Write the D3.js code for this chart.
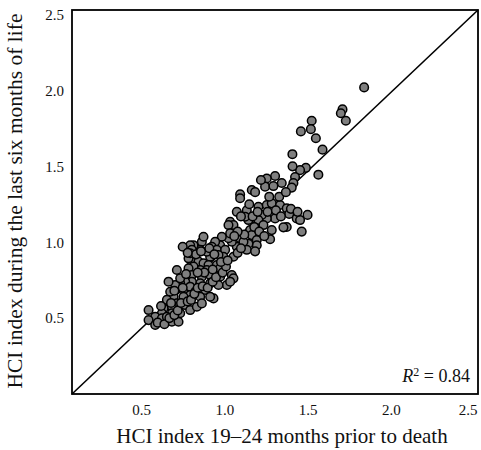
<!DOCTYPE html>
<html>
<head>
<meta charset="utf-8">
<script src="https://cdnjs.cloudflare.com/ajax/libs/d3/7.8.5/d3.min.js"></script>
<style>
  body { margin: 0; background: #fff; }
  svg { display: block; font-family: "Liberation Serif", "DejaVu Serif", serif; }
</style>
</head>
<body>
<svg id="scatter" width="481" height="450"></svg>
<script>
// HCI index 19-24 months prior to death (x) and during last six months (y)
const hciPrior = [
  1.84, 1.71, 1.70, 1.73, 1.525, 1.52, 1.46, 1.55, 1.59, 1.49, 1.455, 1.565,
  1.409, 1.41, 1.425, 1.415, 1.405, 1.345, 1.305, 1.255, 1.245, 1.295, 1.22, 1.165,
  1.185, 1.095, 1.095, 1.205, 1.255, 1.285, 1.335, 1.375, 1.39, 1.435, 1.455, 1.50,
  1.465, 1.375, 1.355, 1.305, 1.255, 1.225, 1.205, 1.235, 1.285, 1.275, 1.135, 1.145,
  1.125, 1.075, 1.035, 1.055, 1.025, 1.155, 1.165, 1.195, 1.195, 1.145, 1.135, 1.185,
  1.095, 1.075, 1.115, 1.045, 1.025, 1.035, 0.985, 0.975, 0.945, 0.925, 0.955, 1.005,
  1.055, 0.995, 0.965, 0.915, 0.895, 0.865, 0.875, 0.855, 0.815, 0.795, 0.805, 0.825,
  0.805, 0.845, 0.875, 0.905, 0.955, 0.975, 0.895, 0.855, 0.815, 0.785, 0.715, 0.805,
  0.865, 0.915, 0.975, 1.045, 1.055, 1.015, 0.915, 0.855, 0.805, 0.765, 0.735, 0.705,
  0.665, 0.755, 0.795, 0.825, 0.885, 0.935, 0.855, 0.795, 0.755, 0.695, 0.675, 0.655,
  0.715, 0.765, 0.685, 0.635, 0.625, 0.685, 0.735, 0.585, 0.545, 0.545, 0.585, 0.625,
  0.655, 0.685, 0.725, 0.795, 0.835, 0.865, 0.915, 0.735, 0.785, 0.795, 0.965, 1.035,
  0.60, 0.64, 0.67, 0.70, 0.72, 0.74, 0.78, 0.80, 0.82, 0.84, 0.87, 0.90,
  0.93, 0.95, 0.99, 1.01, 0.93, 0.88, 0.84, 0.77, 0.75, 0.70, 0.68, 0.62,
  0.83, 0.86, 0.91, 0.94, 0.98, 1.02, 1.08, 1.10, 1.12, 1.08, 1.06, 1.18,
  1.21, 1.24, 1.17, 1.20, 1.26, 1.31, 1.34, 1.40, 1.44, 1.33, 1.37, 1.27,
  1.15, 1.10, 0.75, 0.78
];
const hciLast = [
  2.02, 1.875, 1.85, 1.80, 1.80, 1.745, 1.73, 1.685, 1.61, 1.49, 1.475, 1.445,
  1.58, 1.50, 1.43, 1.39, 1.36, 1.39, 1.436, 1.42, 1.366, 1.37, 1.41, 1.344,
  1.33, 1.315, 1.29, 1.234, 1.245, 1.256, 1.245, 1.223, 1.186, 1.157, 1.146, 1.18,
  1.07, 1.10, 1.098, 1.157, 1.157, 1.18, 1.146, 1.113, 1.08, 1.02, 1.21, 1.146,
  1.168, 1.20, 1.135, 1.113, 1.113, 1.08, 1.047, 1.014, 0.98, 0.99, 0.95, 0.94,
  1.026, 0.97, 1.003, 1.003, 1.026, 1.058, 1.036, 0.98, 1.003, 0.97, 0.95, 0.95,
  0.904, 0.904, 0.916, 0.904, 0.937, 1.003, 1.036, 0.95, 0.98, 0.98, 0.95, 0.904,
  0.872, 0.872, 0.861, 0.85, 0.85, 0.828, 0.817, 0.817, 0.839, 0.828, 0.817, 0.784,
  0.773, 0.784, 0.773, 0.784, 0.762, 0.718, 0.729, 0.729, 0.74, 0.74, 0.729, 0.718,
  0.74, 0.685, 0.707, 0.674, 0.685, 0.63, 0.641, 0.652, 0.641, 0.641, 0.674, 0.62,
  0.597, 0.586, 0.575, 0.565, 0.532, 0.532, 0.532, 0.509, 0.553, 0.487, 0.455, 0.499,
  0.509, 0.476, 0.476, 0.553, 0.575, 0.597, 0.641, 0.762, 0.894, 0.927, 0.718, 0.74,
  0.47, 0.46, 0.50, 0.52, 0.55, 0.60, 0.61, 0.62, 0.66, 0.70, 0.71, 0.70,
  0.74, 0.77, 0.80, 0.84, 0.82, 0.80, 0.80, 0.79, 0.70, 0.68, 0.60, 0.58,
  0.92, 0.94, 0.96, 0.92, 0.87, 0.88, 0.93, 0.96, 1.05, 1.07, 1.04, 1.10,
  1.07, 1.04, 1.17, 1.20, 1.20, 1.21, 1.17, 1.22, 1.20, 1.30, 1.33, 1.30,
  1.25, 1.17, 0.97, 0.93
];
const tickVals = [0.5, 1.0, 1.5, 2.0, 2.5];
const xDomain = [0.085, 2.524];
const yDomain = [0.0, 2.53];
const r2Text = "0.84";

const svg = d3.select("#scatter"),
    margin = {top: 10, right: 3, bottom: 56, left: 72},
    width = +svg.attr("width") - margin.left - margin.right,
    height = +svg.attr("height") - margin.top - margin.bottom,
    g = svg.append("g").attr("transform", "translate(" + margin.left + "," + margin.top + ")");

const x = d3.scaleLinear().domain(xDomain).range([0, width]);
const y = d3.scaleLinear().domain(yDomain).range([height, 0]);

// axes: labels only, no ticks
const xAxis = g.append("g")
    .attr("transform", "translate(0," + height + ")")
    .call(d3.axisBottom(x).tickValues(tickVals).tickFormat(d3.format(".1f")).tickSize(0).tickPadding(10));
const yAxis = g.append("g")
    .call(d3.axisLeft(y).tickValues(tickVals).tickFormat(d3.format(".1f")).tickSize(0).tickPadding(8));
[xAxis, yAxis].forEach(a => {
    a.select(".domain").remove();
    a.selectAll("text").style("font-size", "15px").style("font-family", "Liberation Serif").attr("fill", "#111");
});
// keep the last x label inside the window
xAxis.selectAll(".tick").filter(d => d === 2.5).select("text").attr("text-anchor", "end").attr("dx", 3);

// diagonal reference line corner to corner
g.append("line")
    .attr("x1", x(xDomain[0])).attr("y1", y(yDomain[0]))
    .attr("x2", x(xDomain[1])).attr("y2", y(yDomain[1]))
    .attr("stroke", "#000").attr("stroke-width", 1.6);

const points = hciPrior.map((v, i) => ({x: v, y: hciLast[i]}));
g.selectAll("circle")
    .data(points)
    .enter().append("circle")
    .attr("cx", d => x(d.x))
    .attr("cy", d => y(d.y))
    .attr("r", 4.3)
    .attr("fill", "#7f7f7f")
    .attr("stroke", "#000")
    .attr("stroke-width", 1.5);

// frame
g.append("rect")
    .attr("width", width).attr("height", height)
    .attr("fill", "none").attr("stroke", "#000").attr("stroke-width", 1.8);

// R squared
const r2 = g.append("text")
    .attr("x", width - 8).attr("y", height - 12)
    .attr("text-anchor", "end")
    .style("font-size", "18px").attr("fill", "#111");
r2.append("tspan").style("font-style", "italic").text("R");
r2.append("tspan").attr("dy", -6).style("font-size", "12px").text("2");
r2.append("tspan").attr("dy", 6).text(" = " + r2Text);

// axis titles
svg.append("text")
    .attr("x", 282).attr("y", 443)
    .attr("text-anchor", "middle")
    .style("font-size", "21px").attr("fill", "#111")
    .text("HCI index 19\u201324 months prior to death");
svg.append("text")
    .attr("transform", "rotate(-90)")
    .attr("x", -201).attr("y", 22)
    .attr("text-anchor", "middle")
    .style("font-size", "21.5px").attr("fill", "#111")
    .text("HCI index during the last six months of life");
</script>
</body>
</html>
